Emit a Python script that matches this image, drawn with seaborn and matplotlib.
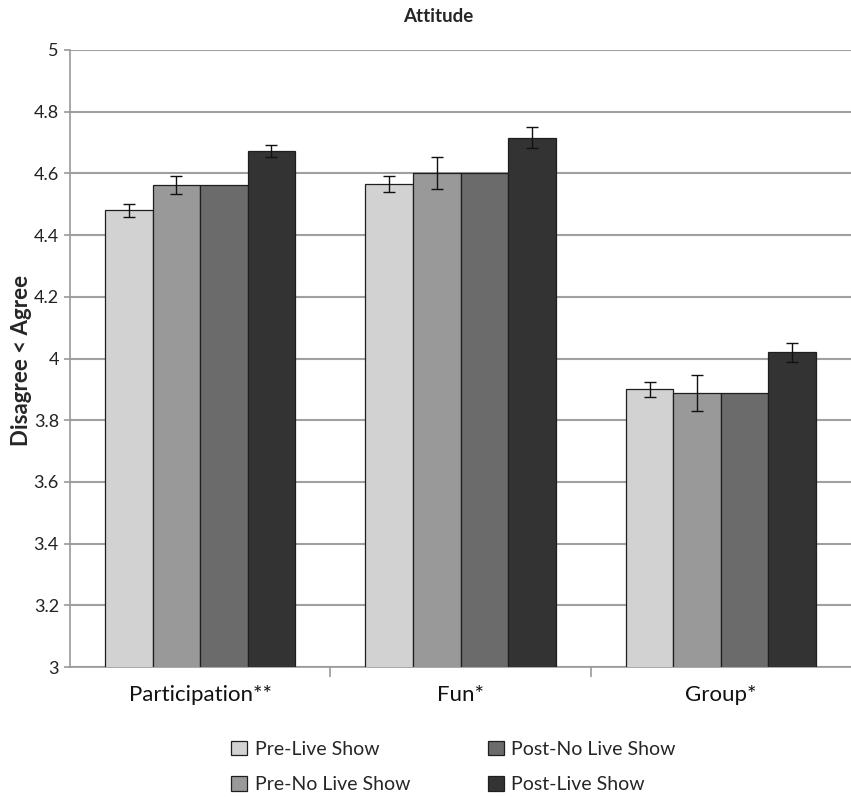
import matplotlib
matplotlib.use("Agg")
import matplotlib.pyplot as plt
import seaborn as sns
import pandas as pd
import numpy as np

categories = ["Participation**", "Fun*", "Group*"]
series = ["Pre-Live Show", "Pre-No Live Show", "Post-No Live Show", "Post-Live Show"]
pre_live = [4.48, 4.566, 3.90]
pre_no_live = [4.562, 4.60, 3.887]
post_no_live = [4.562, 4.60, 3.887]
post_live = [4.672, 4.716, 4.02]
err_pre_live = [0.02, 0.027, 0.025]
err_pre_no_live = [0.028, 0.052, 0.058]
err_post_no_live = [0.0, 0.0, 0.0]
err_post_live = [0.02, 0.034, 0.03]
colors = ["#d2d2d2", "#999999", "#6b6b6b", "#333333"]
yticks = [3, 3.2, 3.4, 3.6, 3.8, 4, 4.2, 4.4, 4.6, 4.8, 5]
ytick_labels = ["3", "3.2", "3.4", "3.6", "3.8", "4", "4.2", "4.4", "4.6", "4.8", "5"]

vals = [pre_live, pre_no_live, post_no_live, post_live]
errs = [err_pre_live, err_pre_no_live, err_post_no_live, err_post_live]

rows = []
for s, v in zip(series, vals):
    for c, y in zip(categories, v):
        rows.append({"cat": c, "series": s, "val": y})
df = pd.DataFrame(rows)

sns.set_theme(style="white")
plt.rcParams['font.family'] = ['Lato', 'DejaVu Sans']

fig = plt.figure(figsize=(8.51, 7.97), dpi=100)
ax = fig.add_axes([70/851, 1-667/797, 1-70/851, (667-50)/797])

sns.barplot(data=df, x="cat", y="val", hue="series", order=categories,
            hue_order=series, palette=colors, edgecolor="#1e1e1e",
            linewidth=0.9, width=0.73, gap=0, errorbar=None, ax=ax, zorder=3)

for cont, e in zip(ax.containers, errs):
    xs = [b.get_x() + b.get_width()/2 for b in cont]
    ys = [b.get_height() for b in cont]
    xe = [x for x, ee in zip(xs, e) if ee > 0]
    ye = [y for y, ee in zip(ys, e) if ee > 0]
    ee_ = [ee for ee in e if ee > 0]
    if xe:
        ax.errorbar(xe, ye, yerr=ee_, fmt="none", ecolor="#111111",
                    elinewidth=1.0, capsize=4, capthick=1.0, zorder=4)

ax.set_ylim(3, 5)
ax.set_xlim(-0.5, 2.5)
ax.set_yticks(yticks)
ax.set_yticklabels(ytick_labels, fontsize=13, color="#222222")
ax.yaxis.grid(True, color="#a0a0a0", linewidth=1.5, zorder=0)
ax.set_axisbelow(True)
for sp in ["top", "right"]:
    ax.spines[sp].set_visible(False)
for sp in ["left", "bottom"]:
    ax.spines[sp].set_color("#999999")
    ax.spines[sp].set_linewidth(1.2)
ax.tick_params(axis="y", which="major", length=4, color="#999999", width=1.2, pad=4, left=True)
ax.set_xticks([0, 1, 2])
ax.set_xticklabels(categories, fontsize=16, color="#111111")
ax.tick_params(axis="x", which="major", length=0, pad=13)
ax.set_xticks([0.5, 1.5], minor=True)
ax.tick_params(axis="x", which="minor", length=7, color="#999999", width=1.2, bottom=True)
ax.set_xlabel("")
ax.set_ylabel("Disagree < Agree", fontsize=16, fontweight="bold")
ax.yaxis.set_label_coords(-0.049, 0.497)

fig.text(0.515, 1-16/797, "Attitude", ha="center", va="center", fontsize=13.5, fontweight="bold")

handles, labels = ax.get_legend_handles_labels()
ax.get_legend().remove()
fig.legend(handles, labels, ncol=2, loc="center", bbox_to_anchor=(0.533, 1-767/797),
           frameon=False, fontsize=14, handlelength=0.8, handleheight=0.8,
           columnspacing=4.0, handletextpad=0.4, labelspacing=0.95)

fig.savefig("out.png", dpi=100, facecolor="white")
